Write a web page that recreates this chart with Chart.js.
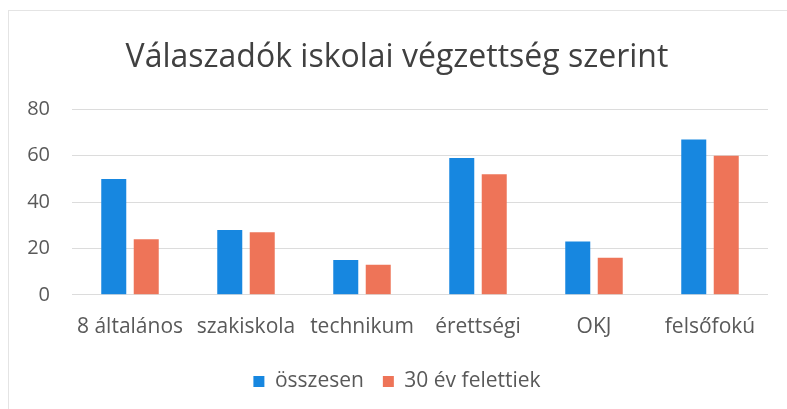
<!DOCTYPE html>
<html lang="hu">
<head>
    <meta charset="UTF-8">
    <title>Válaszadók iskolai végzettség szerint</title>
    <script src="https://cdn.jsdelivr.net/npm/chart.js"></script>
    <style>
        html, body { margin: 0; padding: 0; background: #fff; }
        .chart-container {
            position: relative;
            width: 787px;
            height: 409px;
        }
        .frame {
            position: absolute;
            left: 8px; top: 10px; right: 0; bottom: 0;
            border-left: 1px solid #e4e4e4;
            border-top: 1px solid #e4e4e4;
            pointer-events: none;
        }
    </style>
</head>
<body>
    <div class="chart-container">
        <canvas id="schoolChart" width="787" height="409"></canvas>
        <div class="frame"></div>
    </div>
    <script>
        const categories = ['8 általános', 'szakiskola', 'technikum', 'érettségi', 'OKJ', 'felsőfokú'];
        const osszesen = [50, 28, 15, 59, 23, 67];
        const felett30 = [24, 27, 13, 52, 16, 60];
        const yTicks = [0, 20, 40, 60, 80];

        const textColor = '#595959';
        const fontFamily = "'Open Sans', 'Noto Sans', sans-serif";

        const ctx = document.getElementById('schoolChart').getContext('2d');
        new Chart(ctx, {
            type: 'bar',
            data: {
                labels: categories,
                datasets: [{
                    label: 'összesen',
                    data: osszesen,
                    backgroundColor: '#1787e0',
                    barPercentage: 0.77,
                    categoryPercentage: 0.56
                }, {
                    label: '30 év felettiek',
                    data: felett30,
                    backgroundColor: '#ee7458',
                    barPercentage: 0.77,
                    categoryPercentage: 0.56
                }]
            },
            options: {
                responsive: false,
                animation: false,
                layout: {
                    padding: { left: 26, right: 19, top: 39, bottom: 7 }
                },
                scales: {
                    x: {
                        grid: { display: false },
                        border: { display: false },
                        ticks: {
                            color: textColor,
                            font: { family: fontFamily, size: 21 },
                            padding: 12
                        }
                    },
                    y: {
                        min: yTicks[0],
                        max: yTicks[yTicks.length - 1],
                        afterBuildTicks: axis => {
                            axis.ticks = yTicks.map(v => ({ value: v }));
                        },
                        afterFit: axis => {
                            // plot area starts at x = 72 like the original
                            axis.width = 46;
                        },
                        grid: { color: '#dcdcdc', drawTicks: false },
                        border: { display: false },
                        ticks: {
                            color: textColor,
                            font: { family: fontFamily, size: 20 },
                            padding: 22
                        }
                    }
                },
                plugins: {
                    title: {
                        display: true,
                        text: 'Válaszadók iskolai végzettség szerint',
                        color: '#404040',
                        font: { family: fontFamily, size: 32, weight: 'normal' },
                        padding: { top: 0, bottom: 32 }
                    },
                    legend: {
                        position: 'bottom',
                        labels: {
                            color: textColor,
                            font: { family: fontFamily, size: 21 },
                            boxWidth: 11,
                            boxHeight: 11,
                            padding: 19
                        }
                    },
                    tooltip: { enabled: false }
                }
            }
        });
    </script>
</body>
</html>
